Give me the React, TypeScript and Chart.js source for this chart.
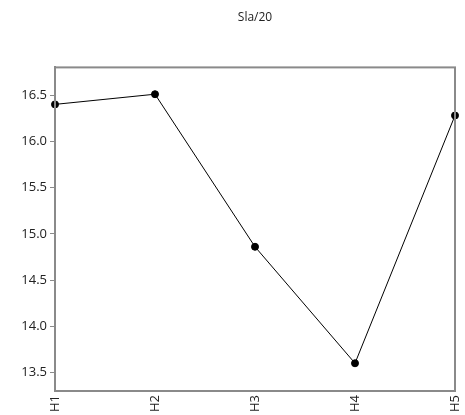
import React, { useEffect, useRef } from "react";
import { Chart, registerables } from "chart.js";

Chart.register(...registerables);

const titleText = "Sla/20";
const categories = ["H1", "H2", "H3", "H4", "H5"];
const values = [16.4, 16.51, 14.86, 13.6, 16.28];
const yTicks = [13.5, 14.0, 14.5, 15.0, 15.5, 16.0, 16.5];
const yMin = 13.3;
const yMax = 16.8;

const FONT = "'Segoe UI', 'Open Sans', 'Noto Sans', sans-serif";

const frame = {
  id: "frame",
  afterDatasetsDraw(chart: any) {
    const { ctx, chartArea } = chart;
    ctx.save();
    ctx.strokeStyle = "#8a8a8a";
    ctx.lineWidth = 2;
    ctx.strokeRect(chartArea.left, chartArea.top, chartArea.right - chartArea.left, chartArea.bottom - chartArea.top);
    ctx.restore();
  },
};

export default function App() {
  const ref = useRef<HTMLCanvasElement>(null);
  useEffect(() => {
    document.body.style.margin = "0";
    const chart = new Chart(ref.current!, {
      type: "line",
      data: {
        labels: categories,
        datasets: [
          {
            data: values,
            borderColor: "#000",
            borderWidth: 1,
            pointBackgroundColor: "#000",
            pointBorderColor: "#000",
            pointRadius: 3.5,
            tension: 0,
            fill: false,
          },
        ],
      },
      options: {
        animation: false,
        responsive: false,
        layout: { padding: { right: 10, left: 0, bottom: 0, top: 0 } },
        plugins: {
          legend: { display: false },
          tooltip: { enabled: false },
          title: {
            display: true,
            text: titleText,
            fullSize: false,
            color: "#222",
            font: { family: FONT, size: 12, weight: "normal" },
            padding: { top: 10, bottom: 43 },
          },
        },
        scales: {
          x: {
            type: "category",
            offset: false,
            grid: { display: false, drawTicks: false },
            border: { display: true, color: "#8a8a8a", width: 2 },
            ticks: {
              color: "#222",
              font: { family: FONT, size: 13 },
              minRotation: 90,
              maxRotation: 90,
              autoSkip: false,
              padding: 4,
            },
            afterFit(scale: any) {
              scale.height = 24;
              scale.paddingLeft = 0;
              scale.paddingRight = 0;
            },
          },
          y: {
            type: "linear",
            min: yMin,
            max: yMax,
            grid: { drawOnChartArea: false, drawTicks: true, tickLength: 5, color: "#8a8a8a", lineWidth: 1 },
            border: { display: true, color: "#8a8a8a", width: 2 },
            ticks: {
              color: "#222",
              font: { family: FONT, size: 13 },
              padding: 3,
              callback: (v: any) => Number(v).toFixed(1),
            },
            afterBuildTicks(scale: any) {
              scale.ticks = yTicks.map((v) => ({ value: v }));
            },
            afterFit(scale: any) {
              scale.width = 55;
              scale.paddingTop = 0;
              scale.paddingBottom = 0;
            },
          },
        },
      },
      plugins: [frame],
    });
    return () => chart.destroy();
  }, []);
  return (
    <div style={{ width: 465, height: 415 }}>
      <canvas ref={ref} width={465} height={415} />
    </div>
  );
}
